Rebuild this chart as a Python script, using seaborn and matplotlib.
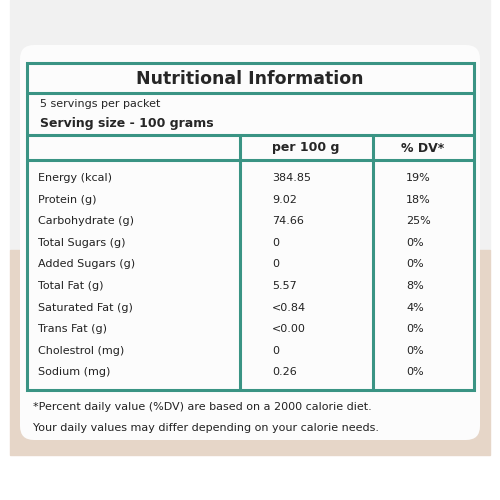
import matplotlib
matplotlib.use("Agg")
import matplotlib.pyplot as plt
import seaborn as sns
from matplotlib.patches import FancyBboxPatch, Rectangle

sns.set_style("white")
plt.rcParams['font.family'] = ['DejaVu Sans']

nutrients = ["Energy (kcal)", "Protein (g)", "Carbohydrate (g)", "Total Sugars (g)",
             "Added Sugars (g)", "Total Fat (g)", "Saturated Fat (g)", "Trans Fat (g)",
             "Cholestrol (mg)", "Sodium (mg)"]
per100 = ["384.85", "9.02", "74.66", "0", "0", "5.57", "<0.84", "<0.00", "0", "0.26"]
dv = ["19%", "18%", "25%", "0%", "0%", "8%", "4%", "0%", "0%", "0%"]

teal = "#3a9484"
fig = plt.figure(figsize=(5, 5), dpi=100)
ax = fig.add_axes([0, 0, 1, 1])
ax.set_xlim(0, 500); ax.set_ylim(500, 0); ax.axis("off")

# background
ax.add_patch(Rectangle((10, 0), 480, 250, color="#f1f1f1", zorder=0))
ax.add_patch(Rectangle((10, 250), 480, 205, color="#e6d6c8", zorder=0))
ax.add_patch(FancyBboxPatch((20, 45), 460, 395, boxstyle="round,pad=0,rounding_size=14",
                            fc="#fcfcfc", ec="none", zorder=1))

lw = 2.2
ax.add_patch(Rectangle((27, 63), 447, 327, fill=False, ec=teal, lw=lw, zorder=3))
for y in [93, 135, 160]:
    ax.plot([27, 474], [y, y], color=teal, lw=lw, zorder=3)
for x in [240, 373]:
    ax.plot([x, x], [135, 390], color=teal, lw=lw, zorder=3)

ax.text(250, 79, "Nutritional Information", ha="center", va="center",
        fontsize=12.5, fontweight="bold", zorder=4)
ax.text(40, 104, "5 servings per packet", ha="left", va="center", fontsize=8, zorder=4)
ax.text(40, 123, "Serving size - 100 grams", ha="left", va="center", fontsize=9,
        fontweight="bold", zorder=4)
ax.text(306, 148, "per 100 g", ha="center", va="center", fontsize=9, fontweight="bold", zorder=4)
ax.text(423, 148, "% DV*", ha="center", va="center", fontsize=9, fontweight="bold", zorder=4)

y0, dy = 178, 21.6
for i, (n, p, d) in enumerate(zip(nutrients, per100, dv)):
    y = y0 + i * dy
    ax.text(38, y, n, ha="left", va="center", fontsize=8, color="#222222", zorder=4)
    ax.text(272, y, p, ha="left", va="center", fontsize=8, color="#222222", zorder=4)
    ax.text(406, y, d, ha="left", va="center", fontsize=8, color="#222222", zorder=4)

ax.text(33, 407, "*Percent daily value (%DV) are based on a 2000 calorie diet.",
        ha="left", va="center", fontsize=8, color="#222222", zorder=4)
ax.text(33, 428, "Your daily values may differ depending on your calorie needs.",
        ha="left", va="center", fontsize=8, color="#222222", zorder=4)

fig.savefig("out.png", dpi=100, facecolor="white")
